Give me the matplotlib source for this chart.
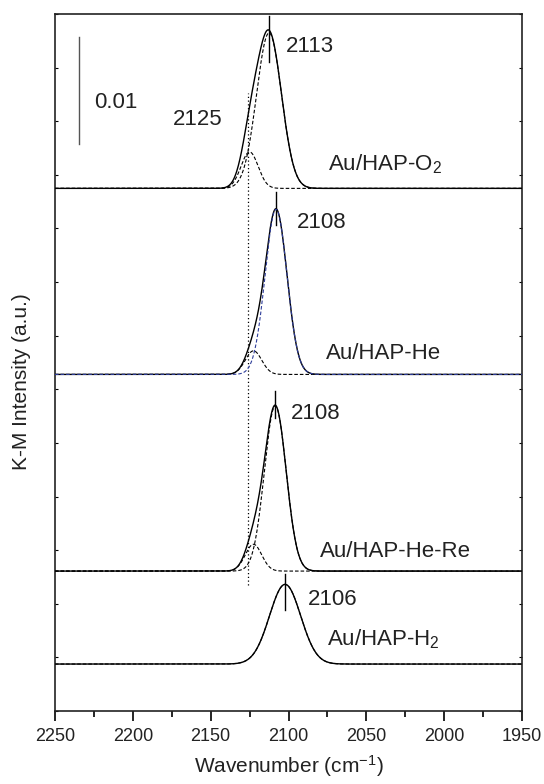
import numpy as np
import matplotlib
matplotlib.use("Agg")
import matplotlib.pyplot as plt
from matplotlib.ticker import MultipleLocator, NullFormatter

plt.rcParams['font.family'] = ['Liberation Sans', 'DejaVu Sans']
plt.rcParams['mathtext.fontset'] = 'custom'
plt.rcParams['mathtext.rm'] = 'Liberation Sans'
plt.rcParams['mathtext.it'] = 'Liberation Sans'

# muestras, de arriba hacia abajo
muestras = ['Au/HAP-O$_2$', 'Au/HAP-He', 'Au/HAP-He-Re', 'Au/HAP-H$_2$']
offsets = [0.04874, 0.03139, 0.01305, 0.00438]

# componente principal (centro, altura, ancho)
centro_1 = [2112.5, 2108.0, 2108.5, 2102.2]
altura_1 = [0.0145, 0.0154, 0.0154, 0.00743]
sigma_1 = [8.0, 7.0, 7.0, 10.0]

# componente pequena ~2125 (no existe en H2)
centro_2 = [2125.0, 2122.5, 2122.5, None]
altura_2 = [0.0034, 0.0022, 0.0025, None]
sigma_2 = [5.5, 5.3, 5.3, None]

# etiquetas de los picos y marcas verticales
pico_txt = ['2113', '2108', '2108', '2106']
pico_txt_x = [2101.5, 2094.9, 2098.6, 2087.5]
pico_txt_y = [0.0620, 0.04553, 0.0277, 0.01044]
marca_x = [2112.5, 2108.0, 2108.5, 2102.2]
marca_y0 = [0.06049, 0.04532, 0.02729, 0.00942]
marca_y1 = [0.06481, 0.04843, 0.02989, 0.01275]
nombre_x = [2074.8, 2076.0, 2079.9, 2075.3]
nombre_y = [0.05038, 0.0328, 0.01439, 0.00615]

x = np.linspace(2250, 1950, 1201)

def gauss(x, c, h, s):
    return h * np.exp(-(x - c)**2 / (2 * s**2))

fig = plt.figure(figsize=(5.44, 7.84), dpi=100)
ax = fig.add_axes([0.1011, 0.0931, 0.8585, 0.889])

dash = (0, (3.2, 1.8))
for i in range(4):
    y0 = offsets[i]
    g1 = gauss(x, centro_1[i], altura_1[i], sigma_1[i])
    total = g1.copy()
    col1 = '#2e3d9a' if i == 1 else 'black'
    if centro_2[i] is not None:
        g2 = gauss(x, centro_2[i], altura_2[i], sigma_2[i])
        total += g2
        ax.plot(x, y0 + g2, color='black', lw=0.8, ls=dash, zorder=3)
    ax.plot(x, y0 + total, color='black', lw=1.0, zorder=2)
    ax.plot(x, y0 + g1, color=col1, lw=0.8, ls=dash, zorder=4)
    ax.plot([marca_x[i], marca_x[i]], [marca_y0[i], marca_y1[i]], color='black', lw=1.0)
    ax.text(pico_txt_x[i], pico_txt_y[i], pico_txt[i], fontsize=16, color='#222222',
            ha='left', va='center')
    ax.text(nombre_x[i], nombre_y[i], muestras[i], fontsize=16, color='#222222',
            ha='left', va='baseline')

# linea punteada de la componente 2125
ax.plot([2126.2, 2126.2], [0.01175, 0.05766], color='black', lw=0.9, ls=(0, (1, 2)))
ax.text(2174.6, 0.05517, '2125', fontsize=16, color='#222222', ha='left', va='center')

# barra de escala
ax.plot([2234.6, 2234.6], [0.0529, 0.0629], color='#555555', lw=1.0)
ax.text(2224.7, 0.05676, '0.01', fontsize=16, color='#222222', ha='left', va='center')

ax.set_xlim(2250, 1950)
ax.set_ylim(0, 0.065)
ax.xaxis.set_major_locator(MultipleLocator(50))
ax.xaxis.set_minor_locator(MultipleLocator(25))
ax.yaxis.set_major_locator(MultipleLocator(0.005))
ax.yaxis.set_major_formatter(NullFormatter())
ax.tick_params(axis='x', which='major', direction='out', length=7, width=1.2,
               labelsize=13, labelcolor='#222222', pad=5)
ax.tick_params(axis='x', which='minor', direction='out', length=4, width=1.2)
ax.tick_params(axis='y', which='major', direction='in', length=2.2, width=0.8,
               left=True, right=True)
for s in ax.spines.values():
    s.set_linewidth(1.2)
    s.set_color('#222222')

ax.set_xlabel('Wavenumber (cm$^{-1}$)', fontsize=15, color='#222222', labelpad=6)
ax.set_ylabel('K-M Intensity (a.u.)', fontsize=15, color='#222222')
ax.yaxis.set_label_coords(-0.052, 0.4725)

fig.savefig('out.png', dpi=100)
